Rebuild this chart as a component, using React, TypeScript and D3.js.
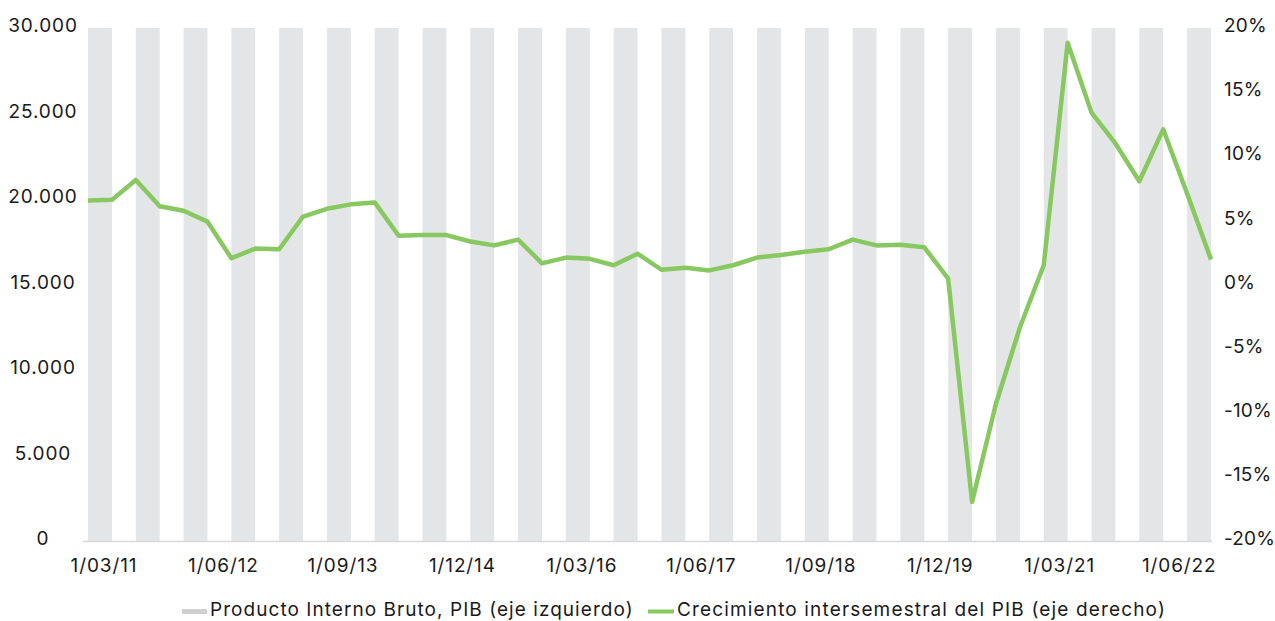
import React, { useEffect, useRef } from 'react';
import * as d3 from 'd3';

const quarters = [
  '1/03/11', '1/06/11', '1/09/11', '1/12/11',
  '1/03/12', '1/06/12', '1/09/12', '1/12/12',
  '1/03/13', '1/06/13', '1/09/13', '1/12/13',
  '1/03/14', '1/06/14', '1/09/14', '1/12/14',
  '1/03/15', '1/06/15', '1/09/15', '1/12/15',
  '1/03/16', '1/06/16', '1/09/16', '1/12/16',
  '1/03/17', '1/06/17', '1/09/17', '1/12/17',
  '1/03/18', '1/06/18', '1/09/18', '1/12/18',
  '1/03/19', '1/06/19', '1/09/19', '1/12/19',
  '1/03/20', '1/06/20', '1/09/20', '1/12/20',
  '1/03/21', '1/06/21', '1/09/21', '1/12/21',
  '1/03/22', '1/06/22', '1/09/22', '1/12/22',
];

// crecimiento intersemestral, %
const growth = [
  6.55, 6.6, 8.15, 6.1, 5.75, 4.9, 2.05, 2.8,
  2.75, 5.3, 5.9, 6.25, 6.4, 3.8, 3.85, 3.85,
  3.35, 3.05, 3.5, 1.65, 2.1, 2.0, 1.5, 2.4,
  1.15, 1.3, 1.1, 1.5, 2.1, 2.3, 2.55, 2.75,
  3.5, 3.05, 3.1, 2.9, 0.45, -16.95, -9.3, -3.35,
  1.5, 18.85, 13.4, 11.0, 8.05, 12.1, 7.1, 1.95,
];

// PIB bars: one per semester, all reach the top of the left axis
const pibStart = [
  '1/03/11', '1/09/11', '1/03/12', '1/09/12', '1/03/13', '1/09/13',
  '1/03/14', '1/09/14', '1/03/15', '1/09/15', '1/03/16', '1/09/16',
  '1/03/17', '1/09/17', '1/03/18', '1/09/18', '1/03/19', '1/09/19',
  '1/03/20', '1/09/20', '1/03/21', '1/09/21', '1/03/22', '1/09/22',
];
const pib = [
  30000, 30000, 30000, 30000, 30000, 30000, 30000, 30000,
  30000, 30000, 30000, 30000, 30000, 30000, 30000, 30000,
  30000, 30000, 30000, 30000, 30000, 30000, 30000, 30000,
];

const xTickLabels = ['1/03/11', '1/06/12', '1/09/13', '1/12/14', '1/03/16', '1/06/17', '1/09/18', '1/12/19', '1/03/21', '1/06/22'];
const leftTicks = [0, 5000, 10000, 15000, 20000, 25000, 30000];
const rightTicks = [-20, -15, -10, -5, 0, 5, 10, 15, 20];

const W = 1275;
const H = 621;
const FONT = 'Inter, "Open Sans", sans-serif';

const App = () => {
  const svgRef = useRef<SVGSVGElement>(null);

  useEffect(() => {
    const svg = d3.select(svgRef.current);
    svg.selectAll('*').remove();

    const top = 28;
    const bottom = 541;
    const x = d3.scalePoint<string>().domain(quarters).range([88, 1211]);
    const step = x.step();
    const yL = d3.scaleLinear().domain([0, 30000]).range([bottom, top]).clamp(true);
    const yR = d3.scaleLinear().domain([-20, 20]).range([bottom, top]);

    const es = d3.formatLocale({ decimal: ',', thousands: '.', grouping: [3], currency: ['', ''] });
    const fmtL = es.format(',d');

    // bars
    svg.append('g')
      .selectAll('rect')
      .data(pib)
      .join('rect')
      .attr('x', (d, i) => x(pibStart[i])!)
      .attr('width', step)
      .attr('y', (d) => yL(d))
      .attr('height', (d) => yL(0) - yL(d))
      .attr('fill', '#e4e5e7');

    // baseline
    svg.append('line')
      .attr('x1', 83).attr('x2', 1212)
      .attr('y1', bottom + 0.5).attr('y2', bottom + 0.5)
      .attr('stroke', '#d9d9d9').attr('stroke-width', 1.5);

    // line
    const line = d3.line<number>()
      .x((d, i) => x(quarters[i])!)
      .y((d) => yR(d));
    svg.append('path')
      .datum(growth)
      .attr('fill', 'none')
      .attr('stroke', '#88c860')
      .attr('stroke-width', 4.5)
      .attr('stroke-linejoin', 'round')
      .attr('d', line);

    const txt = (sel: any, ls = 0.9) => sel
      .attr('font-family', FONT)
      .attr('font-size', 19)
      .attr('letter-spacing', ls)
      .attr('fill', '#1a1a1a')
      .attr('dominant-baseline', 'middle');

    // left axis labels
    svg.append('g')
      .selectAll('text')
      .data(leftTicks)
      .join('text')
      .attr('x', 43)
      .attr('y', (d) => yL(d) - 1)
      .attr('text-anchor', 'middle')
      .call(txt)
      .text((d) => fmtL(d));

    // right axis labels
    svg.append('g')
      .selectAll('text')
      .data(rightTicks)
      .join('text')
      .attr('x', 1224)
      .attr('y', (d) => yR(d) - 1)
      .call(txt, 0.2)
      .text((d) => `${d}%`);

    // x labels
    svg.append('g')
      .selectAll('text')
      .data(xTickLabels)
      .join('text')
      .attr('x', (d) => x(d)! + 16)
      .attr('y', 567)
      .attr('text-anchor', 'middle')
      .call(txt)
      .text((d) => d);

    // legend
    const lg = svg.append('g');
    lg.append('rect').attr('x', 182).attr('y', 609).attr('width', 25).attr('height', 5).attr('fill', '#d0d0d0');
    lg.append('text').attr('x', 210).attr('y', 611).call(txt, 1.05)
      .text('Producto Interno Bruto, PIB (eje izquierdo)');
    lg.append('line').attr('x1', 648).attr('x2', 674).attr('y1', 611.5).attr('y2', 611.5)
      .attr('stroke', '#88c860').attr('stroke-width', 4);
    lg.append('text').attr('x', 677).attr('y', 611).call(txt, 1.15)
      .text('Crecimiento intersemestral del PIB (eje derecho)');
  }, []);

  return (
    <svg ref={svgRef} width={W} height={H} style={{ position: 'absolute', left: 0, top: 0, background: '#fff' }} />
  );
};

export default App;
